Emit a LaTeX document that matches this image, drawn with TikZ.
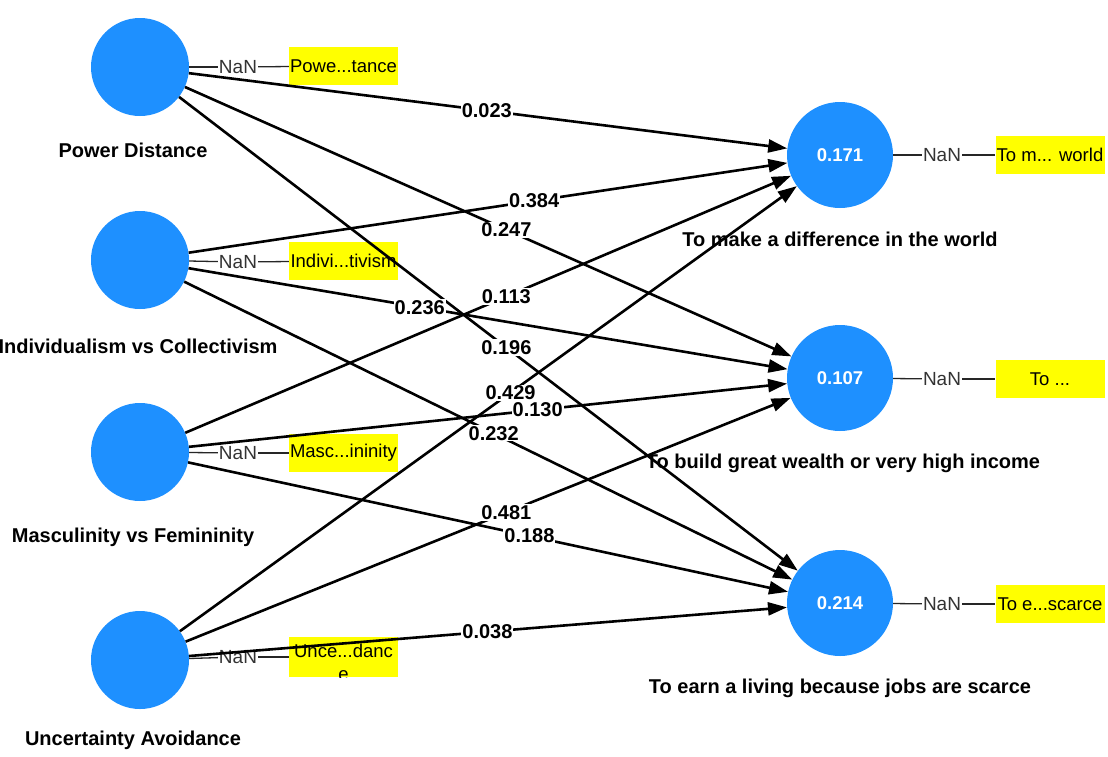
\documentclass[tikz,border=0pt]{standalone}
\usepackage{fontspec}
\setmainfont{Liberation Sans}
\usetikzlibrary{arrows.meta}
\definecolor{nodeblue}{HTML}{1E90FF}
\definecolor{boxyellow}{HTML}{FFFF00}
\begin{document}
\begin{tikzpicture}[x=1pt,y=-1pt,
  lat/.style={circle, fill=nodeblue, minimum size=98pt, inner sep=0pt, text=white,
    font=\fontsize{18.5}{22}\selectfont\bfseries},
  tgt/.style={lat, minimum size=106pt},
  ind/.style={fill=boxyellow, minimum width=109pt, minimum height=38pt, inner sep=0pt,
    font=\fontsize{18.5}{22}\selectfont},
  nan/.style={font=\fontsize{19}{22}\selectfont, inner sep=1pt, text=black!80},
  lbl/.style={font=\fontsize{20}{23}\selectfont\bfseries, fill=white, inner sep=1pt},
  arr/.style={line width=2.6pt, -{Triangle[length=19pt,width=13pt]}},
  thinline/.style={line width=1.3pt, draw=black!85},
  cname/.style={font=\fontsize{20}{23}\selectfont\bfseries}]
\useasboundingbox (0,0) rectangle (1108,756);
\fill[white] (0,0) rectangle (1108,756);

% constructs
\node[lat] (pd) at (140,67) {};
\node[lat] (ic) at (140,260) {};
\node[lat] (mf) at (140,452) {};
\node[lat] (ua) at (140,660) {};
\node[tgt] (t1) at (840,155) {0.171};
\node[tgt] (t2) at (840,378) {0.107};
\node[tgt] (t3) at (840,603) {0.214};

% construct names
\node[cname] (pdn) at (133,150) {Power Distance};
\node[cname] (icn) at (138,346) {Individualism vs Collectivism};
\node[cname] (mfn) at (133,537) {Masculinity vs Femininity};
\node[cname] (uan) at (133,740) {Uncertainty Avoidance};
\node[cname] (t1n) at (840,239) {To make a difference in the world};
\node[cname] (t2n) at (843,463) {To build great wealth or very high income};
\node[cname] (t3n) at (840,688) {To earn a living because jobs are scarce};

% indicators
\node[nan] (pdnan) at (238,67) {NaN};
\node[ind] (pdb) at (343.5,66) {Powe...tance};
\node[nan] (icnan) at (238,262) {NaN};
\node[ind] (icb) at (343.5,261) {Indivi...tivism};
\node[nan] (mfnan) at (238,453) {NaN};
\node[ind] (mfb) at (343.5,453) {Masc...ininity};
\node[nan] (uanan) at (238,657) {NaN};
\node[ind, minimum height=40pt] (uab) at (343.5,657) {};
\begin{scope}
  \clip (uab.south west) rectangle (uab.north east);
  \node[font=\fontsize{18.5}{22}\selectfont, inner sep=0pt] (uat1) at (343.5,651) {Unce...danc};
  \node[font=\fontsize{18.5}{22}\selectfont, inner sep=0pt] (uat2) at (343.5,676) {e};
\end{scope}
\node[nan] (t1nan) at (942,155) {NaN};
\node[ind] (t1b) at (1050,155) {To m... world};
\node[nan] (t2nan) at (942,379) {NaN};
\node[ind] (t2b) at (1050,379) {To ...};
\node[nan] (t3nan) at (942,604) {NaN};
\node[ind] (t3b) at (1050,604) {To e...scarce};

\foreach \a/\b in {pd/pdnan, pdnan/pdb, ic/icnan, icnan/icb, mf/mfnan, mfnan/mfb,
  ua/uanan, uanan/uab, t1/t1nan, t1nan/t1b, t2/t2nan, t2nan/t2b, t3/t3nan, t3nan/t3b}
  \draw[thinline] (\a) -- (\b);

% paths
\draw[arr] (pd) -- node[lbl,pos=0.498]{0.023} (t1);
\draw[arr] (pd) -- node[lbl,pos=0.530]{0.247} (t2);
\draw[arr] (pd) -- node[lbl,pos=0.529]{0.196} (t3);
\draw[arr] (ic) -- node[lbl,pos=0.577]{0.384} (t1);
\draw[arr] (ic) -- node[lbl,pos=0.386]{0.236} (t2);
\draw[arr] (ic) -- node[lbl,pos=0.509]{0.232} (t3);
\draw[arr] (mf) -- node[lbl,pos=0.530]{0.113} (t1);
\draw[arr] (mf) -- node[lbl,pos=0.583]{0.130} (t2);
\draw[arr] (mf) -- node[lbl,pos=0.569]{0.188} (t3);
\draw[arr] (ua) -- node[lbl,pos=0.536]{0.429} (t1);
\draw[arr] (ua) -- node[lbl,pos=0.530]{0.481} (t2);
\draw[arr] (ua) -- node[lbl,pos=0.499]{0.038} (t3);
\end{tikzpicture}
\end{document}
